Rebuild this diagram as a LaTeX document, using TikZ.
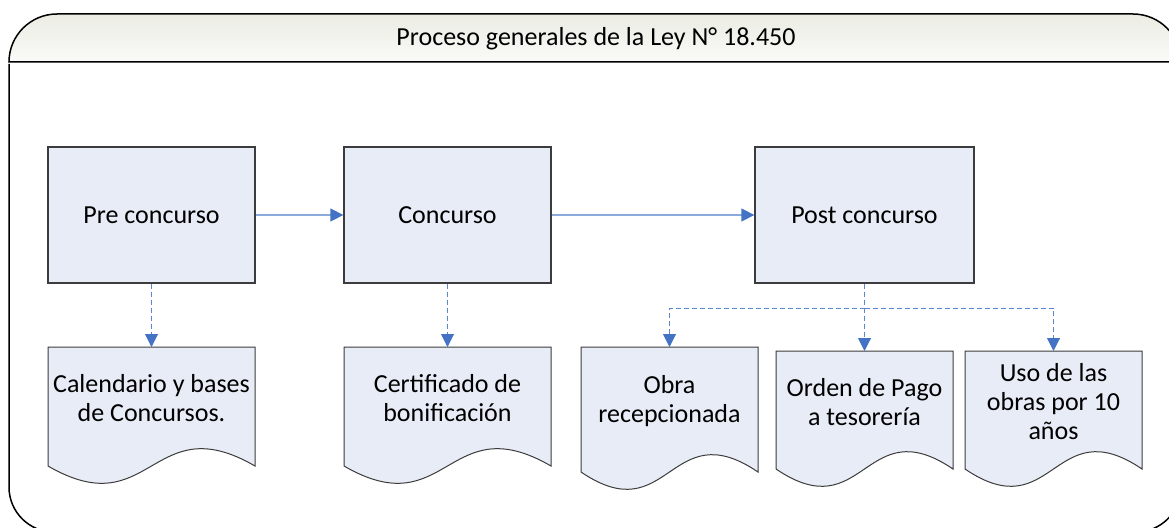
\documentclass[tikz,border=0pt]{standalone}
\usepackage{fontspec}
\setmainfont{Carlito}
\usetikzlibrary{arrows.meta}
\definecolor{boxfill}{HTML}{E7ECF6}
\definecolor{boxline}{HTML}{3C3C3C}
\definecolor{arrowblue}{HTML}{4472C4}
\definecolor{linelight}{HTML}{8EA9DB}
\definecolor{dashblue}{HTML}{5A86D2}
\definecolor{hdrtop}{HTML}{ECECE4}
\definecolor{hdrbot}{HTML}{FAFAF8}
\newcommand\docshape[4]{% left, top, right, wave baseline
  \path[draw=boxline,fill=boxfill,line width=1pt]
    (#1,#2) -- (#3,#2) -- (#3,#4)
    .. controls ({(#1+#3)/2},{#4-60}) and ({(#1+#3)/2},{#4+60}) .. (#1,#4) -- cycle;}
\begin{document}
\begin{tikzpicture}[x=1pt,y=-1pt,
  txt/.style={font=\fontsize{26}{29}\selectfont,align=center,inner sep=0pt},
  procbox/.style={txt,draw=boxline,line width=1.3pt,fill=boxfill,minimum width=207pt,minimum height=136pt},
  solidarrow/.style={draw=linelight,line width=1.3pt,-{Triangle[length=13pt,width=13pt,color=arrowblue]}},
  dashline/.style={draw=dashblue,line width=1pt,dash pattern=on 5pt off 3pt},
  dasharrow/.style={dashline,-{Triangle[length=13pt,width=13pt,color=arrowblue]}},
  frameline/.style={draw=black,line width=1.5pt}
]
\useasboundingbox (0,0) rectangle (1169,527);
\begin{scope}
\clip (0,0) rectangle (1169,527);
% header band
\path[frameline,top color=hdrtop,bottom color=hdrbot]
  (9,62) .. controls (9,35.5) and (30.5,14) .. (57,14) -- (1133,14)
  .. controls (1159.5,14) and (1181,35.5) .. (1181,62) -- cycle;
% body outline
\path[frameline]
  (9,64) -- (9,487) .. controls (9,511.9) and (29.1,532) .. (54,532) -- (1136,532)
  .. controls (1160.9,532) and (1181,511.9) .. (1181,487) -- (1181,64);
\end{scope}
\node[txt] (title) at (596,39) {Proceso generales de la Ley N° 18.450};

% process boxes
\node[procbox] (pre)  at (151.5,215) {Pre concurso};
\node[procbox] (conc) at (447.5,215) {Concurso};
\node[procbox,minimum width=219pt] (post) at (864.5,215) {Post concurso};

% documents
\docshape{48}{347}{255}{466}
\docshape{344}{347}{551}{466}
\docshape{581}{347}{758}{472}
\docshape{776}{351}{953}{469}
\docshape{965}{351}{1142}{469}
\coordinate (calT)  at (151.5,347);
\coordinate (certT) at (447.5,347);
\coordinate (obraT) at (669.5,347);
\coordinate (ordT)  at (864.5,351);
\coordinate (usoT)  at (1053.5,351);
\coordinate (split) at (864.5,308);

\node[txt] (cal)  at (151.5,398) {Calendario y bases\\de Concursos.};
\node[txt] (cert) at (447.5,398) {Certificado de\\bonificación};
\node[txt] (obra) at (669.5,401) {Obra\\recepcionada};
\node[txt] (ord)  at (864.5,402) {Orden de Pago\\a tesorería};
\node[txt] (uso)  at (1053.5,401.5) {Uso de las\\obras por 10\\años};

% connectors
\draw[solidarrow] (pre) -- (conc);
\draw[solidarrow] (conc) -- (post);
\draw[dasharrow] (pre) -- (calT);
\draw[dasharrow] (conc) -- (certT);
\draw[dasharrow] (post) -- (ordT);
\draw[dasharrow] (split) -| (obraT);
\draw[dasharrow] (split) -| (usoT);
\end{tikzpicture}
\end{document}
